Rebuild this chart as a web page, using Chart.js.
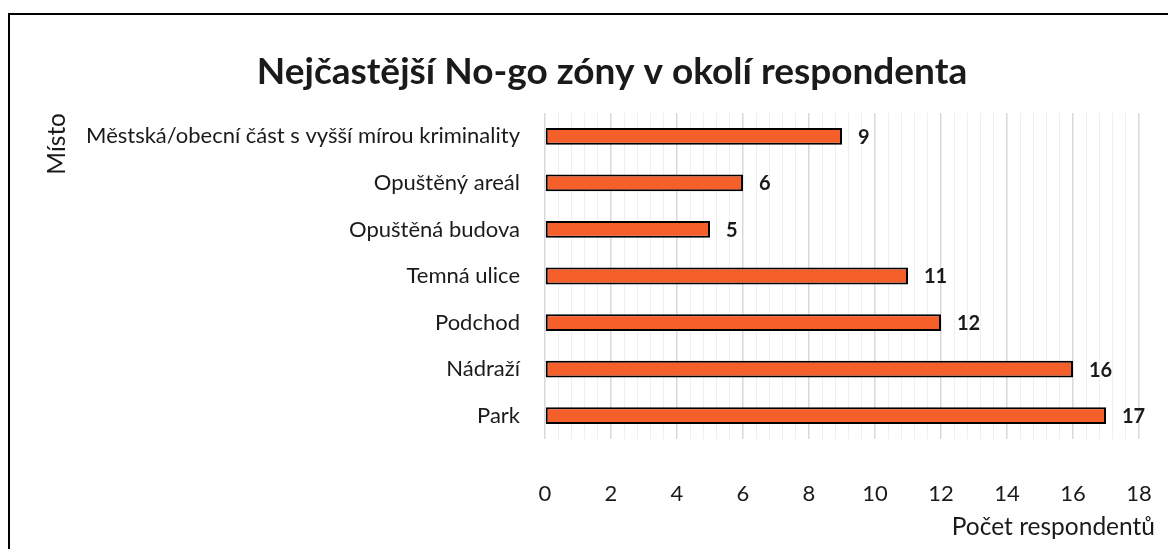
<!DOCTYPE html>
<html>
<head>
<meta charset="utf-8">
<script src="https://cdn.jsdelivr.net/npm/chart.js@4.4.1/dist/chart.umd.min.js"></script>
<style>
  html, body { margin: 0; padding: 0; background: #fff; }
  canvas { display: block; }
</style>
</head>
<body>
<canvas id="myChart" width="1168" height="549"></canvas>
<script>
const places = [
  'Městská/obecní část s vyšší mírou kriminality',
  'Opuštěný areál',
  'Opuštěná budova',
  'Temná ulice',
  'Podchod',
  'Nádraží',
  'Park'
];
const counts = [9, 6, 5, 11, 12, 16, 17];
const chartTitle = 'Nejčastější No-go zóny v okolí respondenta';
const xTitle = 'Počet respondentů';

const FONT = "Lato, 'Open Sans', sans-serif";
const TEXT = '#1a1a1a';

// frame around the whole chart, chart title and x axis title
const frame = {
  id: 'frame',
  beforeDraw(chart) {
    const c = chart.ctx;
    c.save();
    c.strokeStyle = '#000';
    c.lineWidth = 2;
    c.strokeRect(9, 14, 1300, 700);
    c.restore();
  },
  afterDraw(chart) {
    const c = chart.ctx;
    c.save();
    c.fillStyle = TEXT;
    c.textBaseline = 'middle';
    c.font = "bold 37px " + FONT;
    c.textAlign = 'center';
    c.fillText(chartTitle, 612, 72);
    // x title sits right of the plot edge, like in Excel
    const x = chart.scales.x;
    c.font = "24.5px " + FONT;
    c.textAlign = 'right';
    c.fillText(xTitle, x.right + 16, x.bottom - 14);
    c.restore();
  }
};

// bold value labels at the bar ends
const valueLabels = {
  id: 'valueLabels',
  afterDatasetsDraw(chart) {
    const c = chart.ctx;
    const meta = chart.getDatasetMeta(0);
    c.save();
    c.font = "bold 20px " + FONT;
    c.fillStyle = TEXT;
    c.textAlign = 'left';
    c.textBaseline = 'middle';
    meta.data.forEach((bar, i) => {
      c.fillText(counts[i], bar.x + 16, bar.y + 1);
    });
    c.restore();
  }
};

const isMajor = v => Math.abs(v / 2 - Math.round(v / 2)) < 1e-6;

const config = {
  type: 'bar',
  data: {
    labels: places,
    datasets: [{
      data: counts,
      backgroundColor: '#F45F2A',
      borderColor: '#000',
      borderWidth: 2,
      borderSkipped: false,
      barPercentage: 0.72,
      categoryPercentage: 0.5
    }]
  },
  options: {
    indexAxis: 'y',
    responsive: false,
    animation: false,
    layout: { padding: { left: 38, right: 29, top: 113, bottom: 8 } },
    plugins: {
      legend: { display: false },
      tooltip: { enabled: false },
      title: { display: false }
    },
    scales: {
      x: {
        min: 0,
        max: 18,
        border: { display: false },
        grid: {
          drawTicks: false,
          color: ctx => isMajor(ctx.tick.value) ? '#d9d9d9' : '#efefef',
          lineWidth: ctx => isMajor(ctx.tick.value) ? 1.5 : 1
        },
        ticks: {
          stepSize: 0.4,
          autoSkip: false,
          maxTicksLimit: 100,
          maxRotation: 0,
          padding: 42,
          color: TEXT,
          font: { family: FONT, size: 22 },
          callback: v => isMajor(v) ? Math.round(v) : ''
        },
        afterFit(scale) {
          scale.height = 102;
          scale.paddingLeft = 0;
          scale.paddingRight = 0;
        }
      },
      y: {
        border: { display: false },
        grid: { display: false, drawTicks: false },
        ticks: {
          padding: 25,
          color: TEXT,
          font: { family: FONT, size: 22 }
        },
        title: {
          display: true,
          text: 'Místo',
          align: 'end',
          color: TEXT,
          font: { family: FONT, size: 24.5 },
          padding: { top: 4, bottom: 0 }
        },
        afterFit(scale) { scale.width = 507; }
      }
    }
  },
  plugins: [frame, valueLabels]
};

const ctx = document.getElementById('myChart');
const myChart = new Chart(ctx, config);
</script>
</body>
</html>
